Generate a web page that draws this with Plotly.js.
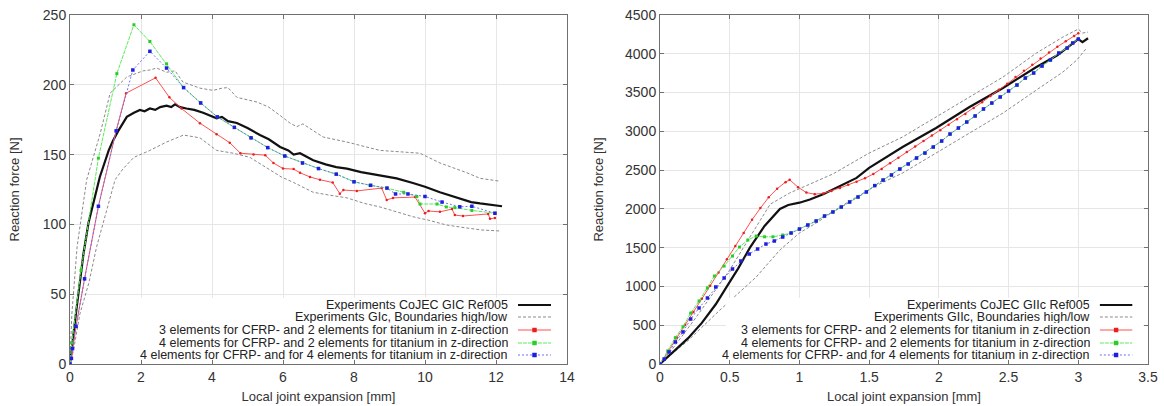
<!DOCTYPE html>
<html>
<head>
<meta charset="utf-8">
<script src="https://cdn.plot.ly/plotly-3.0.1.min.js"></script>
<style>html,body{margin:0;padding:0;background:#fff;}#chart{width:1164px;height:406px;}</style>
</head>
<body>
<div id="chart"></div>
<script>
// ---------- Left chart (Mode I, GIC) ----------
const L_blackX = [0,0.03,0.06,0.1,0.19,0.28,0.38,0.52,0.66,0.84,1.09,1.21,1.36,1.6,1.8,1.97,2.1,2.25,2.4,2.54,2.72,2.85,2.96,3.1,3.28,3.5,3.75,3.95,4.13,4.28,4.45,4.7,5.0,5.35,5.6,5.92,6.15,6.3,6.48,6.85,7.2,7.5,7.8,8.2,8.73,9.2,9.66,10.0,10.42,10.8,11.0,11.3,11.55,11.9,12.17];
const L_blackY = [0,8,14,22,41,60,79,101,115,134,153,160,167,177,180,182,181,183,182,184,185,184,186,184,183,182,180,178,176,177,174,172.6,169,164,161,155.5,153,150,151,146,143,141,140,137.5,135.4,133,129.7,127,123,120,118,116,115,114,113];
const L_upX = [0,0.05,0.2,0.47,0.85,1.13,1.6,2.06,2.25,2.44,2.72,2.96,3.18,3.66,4.03,4.28,4.45,4.7,5.27,5.6,5.92,6.2,6.39,6.56,7.13,7.8,8.73,9.4,9.86,10.42,11.18,11.55,12.1];
const L_upY = [0,35,84,132,165,194,205.6,210,210.6,212,209,210,202,197.6,196,197.6,198,191,187.6,184,178,172.5,170,172,162.6,159,153,152,151,144,137,133,131];
const L_lowX = [0,0.1,0.28,0.53,0.75,1.0,1.27,1.5,1.8,2.25,2.72,3.2,3.66,4.13,4.6,5.07,5.5,5.95,6.3,6.85,7.3,7.8,8.3,8.73,9.2,9.66,10.1,10.6,11.18,11.6,12.1];
const L_lowY = [0,10,36,58,84,108,132,140,148,153,159,164,162,153,151,148,141,134,130,123,121,119,115,112.5,109,105.5,103,99.6,97.4,96,95.3];
const L_redX = [0,0.04,0.17,0.41,0.8,1.3,1.58,2.41,2.8,3.14,3.66,4.13,4.5,4.8,5.17,5.5,5.73,6.0,6.3,6.48,6.76,7.04,7.4,7.6,7.7,8.08,8.78,8.92,9.1,9.72,10.0,10.1,10.42,10.76,10.84,11.07,11.78,11.83,11.97];
const L_redY = [0,4,27,61,113,167,194,205,191,183,172.5,164.5,158.5,151,150,149.6,144,140,139.6,137,134,132,130,122,124.6,124,126,117.5,119,119.6,108,109.6,109,111,106.7,106,107.5,104,104.6];
const L_greenX = [0,0.05,0.31,0.8,1.32,1.8,2.25,2.72,3.2,3.68,4.15,4.63,5.1,5.57,6.05,6.55,7.0,7.5,8.0,8.45,8.92,9.4,9.77,9.86,10.34,10.6,10.84,11.32,11.97];
const L_greenY = [0,15,67,147.5,208,243,231,215,198,187,177,169.5,162,155,149,144,140,136,130.6,128,126,123,120,114.6,114.6,112.5,112,110,108];
const L_blueX = [0,0.04,0.07,0.17,0.41,0.8,1.3,1.77,2.25,2.72,3.2,3.68,4.15,4.63,5.1,5.57,6.05,6.55,7.0,7.5,8.0,8.47,8.93,9.17,9.52,10.0,10.48,10.98,11.32,11.97];
const L_blueY = [0,4,11,27,61,113,167,210.6,224,212,198,187,177,169.5,162,155,149,144,140,136,130.5,128,126,121.8,121.8,120,116,112.6,113,108];

// ---------- Right chart (Mode II, GIIc) ----------
const R_blackX = [0,0.1,0.2,0.3,0.4,0.48,0.56,0.645,0.75,0.86,0.92,1.0,1.075,1.17,1.29,1.41,1.5,1.74,1.98,2.22,2.46,2.7,2.85,2.96,3.0,3.03,3.07];
const R_blackY = [0,160,330,530,770,1000,1230,1500,1780,2000,2050,2080,2120,2190,2290,2400,2530,2798,3043,3314,3559,3830,3980,4139,4190,4150,4200];
const R_upX = [0,0.1,0.25,0.5,0.645,0.79,0.93,1.24,1.5,1.74,1.98,2.22,2.46,2.7,2.89,3.0,3.03,3.07];
const R_upY = [0,220,580,1212,1637,2060,2205,2450,2720,2927,3185,3443,3700,4010,4216,4319,4267,4280];
const R_lowX = [0,0.2,0.43,0.69,0.86,1.0,1.12,1.29,1.53,1.74,1.98,2.22,2.46,2.7,2.89,2.99,3.06];
const R_lowY = [0,300,696,1122,1470,1689,1818,2024,2282,2463,2720,2978,3236,3533,3765,3920,4074];
const R_redX = [0,0.06,0.12,0.18,0.24,0.30,0.36,0.42,0.48,0.54,0.60,0.66,0.72,0.78,0.84,0.90,0.93,0.99,1.05,1.11,1.17,1.23,1.29,1.35,1.41,1.47,1.53,1.59,1.65,1.71,1.77,1.83,1.89,1.95,2.01,2.07,2.13,2.19,2.25,2.31,2.37,2.43,2.49,2.55,2.61,2.67,2.73,2.79,2.85,2.91,2.97,3.0];
const R_redY = [0,165,335,505,670,840,1010,1180,1350,1520,1690,1860,2010,2150,2260,2345,2375,2280,2210,2190,2200,2230,2270,2310,2350,2395,2450,2515,2590,2660,2735,2805,2875,2945,3015,3085,3155,3225,3300,3375,3455,3535,3615,3700,3780,3860,3940,4015,4090,4160,4230,4265];
const R_greenX = [0,0.055,0.11,0.165,0.22,0.28,0.34,0.39,0.46,0.52,0.57,0.63,0.69,0.75,0.81,0.88,0.94,1.0,1.06,1.12,1.18,1.24,1.3,1.36,1.42,1.48,1.54,1.6,1.66,1.72,1.78,1.84,1.9,1.96,2.02,2.08,2.14,2.2,2.26,2.32,2.38,2.44,2.5,2.56,2.62,2.68,2.74,2.8,2.86,2.92,2.96,3.0];
const R_greenY = [0,168,340,480,657,812,980,1134,1263,1392,1508,1599,1650,1640,1640,1663,1690,1740,1792,1844,1908,1960,2024,2089,2153,2218,2300,2372,2437,2514,2579,2656,2720,2798,2875,2965,3043,3120,3198,3288,3365,3443,3520,3597,3687,3752,3842,3920,4010,4074,4139,4190];
const R_blueX = [0,0.03,0.065,0.11,0.165,0.22,0.28,0.34,0.4,0.46,0.52,0.58,0.64,0.7,0.76,0.82,0.88,0.94,1.0,1.06,1.12,1.18,1.24,1.3,1.36,1.42,1.48,1.54,1.6,1.66,1.72,1.78,1.84,1.9,1.96,2.02,2.08,2.14,2.2,2.26,2.32,2.38,2.44,2.5,2.56,2.62,2.68,2.74,2.8,2.86,2.92,2.96,3.0];
const R_blueY = [0,64,155,284,413,580,722,851,993,1109,1225,1328,1418,1483,1547,1586,1637,1689,1740,1792,1844,1908,1960,2024,2089,2153,2218,2300,2372,2437,2514,2579,2656,2720,2798,2875,2965,3043,3120,3198,3288,3365,3443,3520,3597,3687,3752,3842,3920,4010,4074,4139,4190];

// ---------- Legend labels / axis texts ----------
const L_legend = ["Experiments CoJEC GIC Ref005","Experiments GIc, Boundaries high/low","3 elements for CFRP- and 2 elements for titanium in z-direction","4 elements for CFRP- and 2 elements for titanium in z-direction","4 elements for CFRP- and for 4 elements for titanium in z-direction"];
const R_legend = ["Experiments CoJEC GIIc Ref005","Experiments GIIc, Boundaries high/low","3 elements for CFRP- and 2 elements for titanium in z-direction","4 elements for CFRP- and 2 elements for titanium in z-direction","4 elements for CFRP- and for 4 elements for titanium in z-direction"];
const xTitle = "Local joint expansion [mm]";
const yTitle = "Reaction force [N]";

// ---------- Styles ----------
const C = {
  black:'#111111', gray:'#8a8a8a',
  redLine:'rgb(255,80,80)', redMk:'rgb(235,30,30)',
  greenLine:'rgb(90,235,90)', greenMk:'rgb(40,205,40)',
  blueLine:'rgb(110,110,255)', blueMk:'rgb(30,30,225)'
};
const styles = [
  {line:{color:C.black,width:2.2}, mode:'lines'},
  {line:{color:C.gray,width:1,dash:'3px,2px'}, mode:'lines'},
  {line:{color:C.redLine,width:1}, mode:'lines+markers', marker:{color:C.redMk,size:2.5,symbol:'circle'}},
  {line:{color:C.greenLine,width:1,dash:'4px,1px'}, mode:'lines+markers', marker:{color:C.greenMk,size:3,symbol:'square'}},
  {line:{color:C.blueLine,width:1,dash:'2px,2px'}, mode:'lines+markers', marker:{color:C.blueMk,size:3.5,symbol:'square'}}
];

function tr(x,y,st,xa,ya){
  const t = {type:'scatter',x:x,y:y,xaxis:xa,yaxis:ya,mode:st.mode,line:st.line,hoverinfo:'skip'};
  if (st.marker) t.marker = st.marker;
  return t;
}
const data = [
  tr(L_upX,L_upY,styles[1],'x','y'),
  tr(L_lowX,L_lowY,styles[1],'x','y'),
  tr(L_blackX,L_blackY,styles[0],'x','y'),
  tr(L_redX,L_redY,styles[2],'x','y'),
  tr(L_greenX,L_greenY,styles[3],'x','y'),
  tr(L_blueX,L_blueY,styles[4],'x','y'),
  tr(R_upX,R_upY,styles[1],'x2','y2'),
  tr(R_lowX,R_lowY,styles[1],'x2','y2'),
  tr(R_blackX,R_blackY,styles[0],'x2','y2'),
  tr(R_redX,R_redY,styles[2],'x2','y2'),
  tr(R_greenX,R_greenY,styles[3],'x2','y2'),
  tr(R_blueX,R_blueY,styles[4],'x2','y2')
];

const W = 1164, H = 406;
const axCommon = {
  showline:true, linecolor:'#707070', linewidth:1, mirror:'ticks',
  ticks:'inside', ticklen:4, tickcolor:'#707070', tickwidth:1,
  showgrid:true, gridcolor:'#e6e6e6', gridwidth:1, zeroline:false,
  tickfont:{size:14,color:'#333'}, fixedrange:true
};
const yDom = [(H-364)/H, (H-15)/H];
const layout = {
  width:W, height:H, margin:{l:0,r:0,t:0,b:0},
  paper_bgcolor:'#fff', plot_bgcolor:'#fff', showlegend:false,
  font:{family:'"Liberation Sans", Arial, Helvetica, sans-serif', size:13, color:'#333'},
  xaxis:Object.assign({}, axCommon, {domain:[70/W,567/W], anchor:'y', range:[0,14], dtick:2, tick0:0,
    title:{text:xTitle, font:{size:13,color:'#333'}, standoff:8}}),
  yaxis:Object.assign({}, axCommon, {domain:yDom, anchor:'x', range:[0,250], dtick:50, tick0:0,
    title:{text:yTitle, font:{size:13,color:'#333'}, standoff:20}}),
  xaxis2:Object.assign({}, axCommon, {domain:[660/W,1148/W], anchor:'y2', range:[0,3.5], dtick:0.5, tick0:0,
    title:{text:xTitle, font:{size:13,color:'#333'}, standoff:8}}),
  yaxis2:Object.assign({}, axCommon, {domain:yDom, anchor:'x2', range:[0,4500], dtick:500, tick0:0,
    title:{text:yTitle, font:{size:13,color:'#333'}, standoff:18}}),
  shapes:[], annotations:[]
};

// Legend drawn inside each plot (text right-aligned, sample on the right, like the original key)
const rowY = [0.169, 0.1347, 0.0974, 0.0602, 0.0258];
function addKey(xa, ya, labels, boxLeft){
  const xr = xa + ' domain', yr = ya + ' domain';
  layout.shapes.push({type:'rect', xref:xr, yref:yr, x0:boxLeft, x1:0.99, y0:0.013, y1:0.19,
    fillcolor:'#fff', line:{width:0}, layer:'above'});
  labels.forEach((lab,i)=>{
    layout.annotations.push({xref:xr, yref:yr, x:0.8833, y:rowY[i], xanchor:'right', yanchor:'middle',
      text:lab, showarrow:false, height:12, borderpad:0, valign:'middle',
      font:{size:12.5,color:'#222'}});
    const st = styles[i];
    layout.shapes.push({type:'line', xref:xr, yref:yr, x0:0.9014, x1:0.9678, y0:rowY[i], y1:rowY[i],
      line:{color:st.line.color, width:st.line.width, dash:st.line.dash||'solid'}, layer:'above'});
    if (st.marker){
      const s = 0.0045, t = s*497/349;
      layout.shapes.push({type:'rect', xref:xr, yref:yr,
        x0:0.9346-s, x1:0.9346+s, y0:rowY[i]-t, y1:rowY[i]+t,
        fillcolor:st.marker.color, line:{width:0}, layer:'above'});
    }
  });
}
addKey('x','y',L_legend,0.11);
addKey('x2','y2',R_legend,0.135);

Plotly.newPlot('chart', data, layout, {displayModeBar:false, staticPlot:true});
</script>
</body>
</html>
